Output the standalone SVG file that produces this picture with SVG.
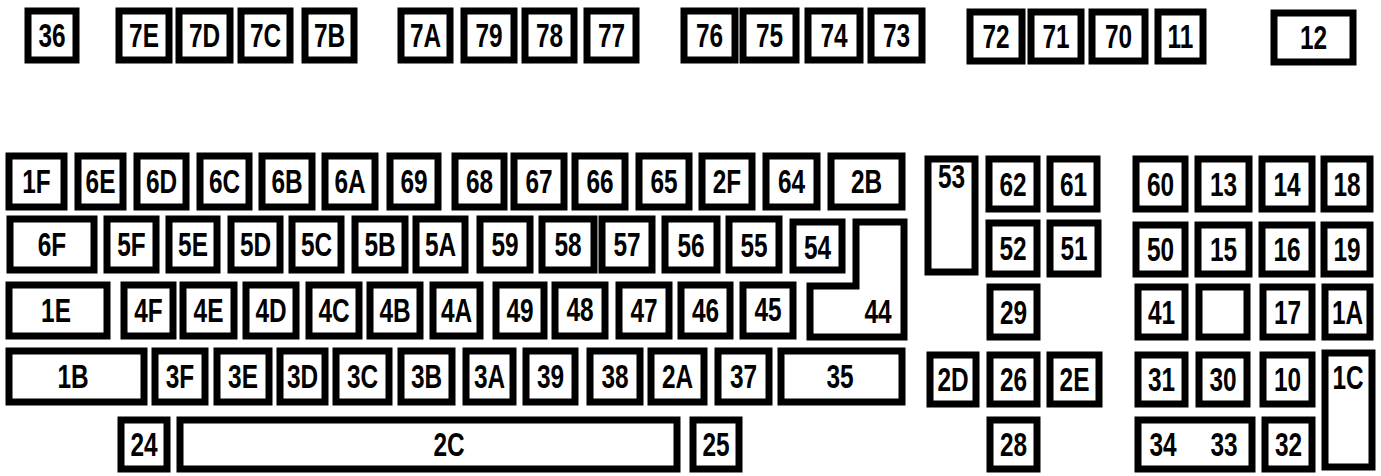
<svg xmlns="http://www.w3.org/2000/svg" width="1381" height="476" viewBox="0 0 1381 476">
<style>
.k rect,.k path{fill:#fff;stroke:#000;stroke-width:7;stroke-linejoin:miter}
.k text{font-family:"Liberation Sans",Arial,sans-serif;font-weight:bold;font-size:33px;text-anchor:middle;fill:#000}
</style>
<rect width="1381" height="476" fill="#fff"/>
<g id="keys" class="k">
<g id="k36"><rect x="28" y="11" width="48" height="49"/><text transform="matrix(.74 0 0 1 52 47)">36</text></g>
<g id="k7E"><rect x="119" y="11" width="50" height="49"/><text transform="matrix(.74 0 0 1 144 47)">7E</text></g>
<g id="k7D"><rect x="179" y="11" width="51" height="49"/><text transform="matrix(.74 0 0 1 204.5 47)">7D</text></g>
<g id="k7C"><rect x="241" y="11" width="49" height="49"/><text transform="matrix(.74 0 0 1 265.5 47)">7C</text></g>
<g id="k7B"><rect x="305" y="11" width="49" height="49"/><text transform="matrix(.74 0 0 1 329.5 47)">7B</text></g>
<g id="k7A"><rect x="401" y="11" width="49" height="49"/><text transform="matrix(.74 0 0 1 425.5 47)">7A</text></g>
<g id="k79"><rect x="464" y="11" width="50" height="49"/><text transform="matrix(.74 0 0 1 489 47)">79</text></g>
<g id="k78"><rect x="525" y="11" width="49" height="49"/><text transform="matrix(.74 0 0 1 549.5 47)">78</text></g>
<g id="k77"><rect x="587" y="11" width="49" height="49"/><text transform="matrix(.74 0 0 1 611.5 47)">77</text></g>
<g id="k76"><rect x="684" y="11" width="51" height="49"/><text transform="matrix(.74 0 0 1 709.5 47)">76</text></g>
<g id="k75"><rect x="743" y="11" width="53" height="49"/><text transform="matrix(.74 0 0 1 769.5 47)">75</text></g>
<g id="k74"><rect x="808" y="11" width="52" height="49"/><text transform="matrix(.74 0 0 1 834 47)">74</text></g>
<g id="k73"><rect x="871" y="11" width="51" height="49"/><text transform="matrix(.74 0 0 1 896.5 47)">73</text></g>
<g id="k72"><rect x="970" y="12" width="52" height="49"/><text transform="matrix(.74 0 0 1 996 48)">72</text></g>
<g id="k71"><rect x="1031" y="12" width="50" height="49"/><text transform="matrix(.74 0 0 1 1056 48)">71</text></g>
<g id="k70"><rect x="1092" y="12" width="53" height="49"/><text transform="matrix(.74 0 0 1 1118.5 48)">70</text></g>
<g id="k11"><rect x="1158" y="12" width="45" height="49"/><text transform="matrix(.74 0 0 1 1180.5 48)">11</text></g>
<g id="k12"><rect x="1274" y="13" width="79" height="49"/><text transform="matrix(.74 0 0 1 1313.5 49)">12</text></g>
<g id="k1F"><rect x="9" y="156" width="55" height="51"/><text transform="matrix(.74 0 0 1 36.5 193)">1F</text></g>
<g id="k6E"><rect x="78" y="156" width="45" height="51"/><text transform="matrix(.74 0 0 1 100.5 193)">6E</text></g>
<g id="k6D"><rect x="137" y="156" width="49" height="51"/><text transform="matrix(.74 0 0 1 161.5 193)">6D</text></g>
<g id="k6C"><rect x="200" y="156" width="49" height="51"/><text transform="matrix(.74 0 0 1 224.5 193)">6C</text></g>
<g id="k6B"><rect x="262" y="156" width="50" height="51"/><text transform="matrix(.74 0 0 1 287 193)">6B</text></g>
<g id="k6A"><rect x="325" y="156" width="50" height="51"/><text transform="matrix(.74 0 0 1 350 193)">6A</text></g>
<g id="k69"><rect x="390" y="156" width="48" height="51"/><text transform="matrix(.74 0 0 1 414 193)">69</text></g>
<g id="k68"><rect x="455" y="156" width="49" height="51"/><text transform="matrix(.74 0 0 1 479.5 193)">68</text></g>
<g id="k67"><rect x="514" y="156" width="50" height="51"/><text transform="matrix(.74 0 0 1 539 193)">67</text></g>
<g id="k66"><rect x="575" y="156" width="50" height="51"/><text transform="matrix(.74 0 0 1 600 193)">66</text></g>
<g id="k65"><rect x="639" y="156" width="50" height="51"/><text transform="matrix(.74 0 0 1 664 193)">65</text></g>
<g id="k2F"><rect x="702" y="156" width="50" height="51"/><text transform="matrix(.74 0 0 1 727 193)">2F</text></g>
<g id="k64"><rect x="766" y="156" width="51" height="51"/><text transform="matrix(.74 0 0 1 791.5 193)">64</text></g>
<g id="k2B"><rect x="831" y="156" width="71" height="51"/><text transform="matrix(.74 0 0 1 866.5 193)">2B</text></g>
<g id="k53"><rect x="928" y="159" width="47" height="113"/><text transform="matrix(.74 0 0 1 951.5 188)">53</text></g>
<g id="k62"><rect x="989" y="159" width="48" height="50"/><text transform="matrix(.74 0 0 1 1013 196)">62</text></g>
<g id="k61"><rect x="1050" y="159" width="47" height="50"/><text transform="matrix(.74 0 0 1 1073.5 196)">61</text></g>
<g id="k60"><rect x="1136" y="159" width="49" height="50"/><text transform="matrix(.74 0 0 1 1160.5 196)">60</text></g>
<g id="k13"><rect x="1198" y="159" width="51" height="50"/><text transform="matrix(.74 0 0 1 1223.5 196)">13</text></g>
<g id="k14"><rect x="1262" y="159" width="50" height="50"/><text transform="matrix(.74 0 0 1 1287 196)">14</text></g>
<g id="k18"><rect x="1324" y="159" width="46" height="50"/><text transform="matrix(.74 0 0 1 1347 196)">18</text></g>
<g id="k6F"><rect x="10" y="219" width="84" height="51"/><text transform="matrix(.74 0 0 1 52 256)">6F</text></g>
<g id="k5F"><rect x="107" y="219" width="49" height="51"/><text transform="matrix(.74 0 0 1 131.5 256)">5F</text></g>
<g id="k5E"><rect x="169" y="219" width="48" height="51"/><text transform="matrix(.74 0 0 1 193 256)">5E</text></g>
<g id="k5D"><rect x="231" y="219" width="49" height="51"/><text transform="matrix(.74 0 0 1 255.5 256)">5D</text></g>
<g id="k5C"><rect x="292" y="219" width="49" height="51"/><text transform="matrix(.74 0 0 1 316.5 256)">5C</text></g>
<g id="k5B"><rect x="355" y="219" width="50" height="51"/><text transform="matrix(.74 0 0 1 380 256)">5B</text></g>
<g id="k5A"><rect x="416" y="219" width="49" height="51"/><text transform="matrix(.74 0 0 1 440.5 256)">5A</text></g>
<g id="k59"><rect x="480" y="219" width="50" height="51"/><text transform="matrix(.74 0 0 1 505 256)">59</text></g>
<g id="k58"><rect x="542" y="219" width="52" height="51"/><text transform="matrix(.74 0 0 1 568 256)">58</text></g>
<g id="k57"><rect x="602" y="219" width="50" height="51"/><text transform="matrix(.74 0 0 1 627 256)">57</text></g>
<g id="k56"><rect x="665" y="219" width="52" height="51"/><text transform="matrix(.74 0 0 1 691 257)">56</text></g>
<g id="k55"><rect x="729" y="219" width="50" height="51"/><text transform="matrix(.74 0 0 1 754 257)">55</text></g>
<g id="k54"><rect x="793" y="222" width="49" height="48"/><text transform="matrix(.74 0 0 1 817.5 259)">54</text></g>
<g id="k44"><path d="M856,222 H904 V337 H810 V286 H856 Z"/><text transform="matrix(.74 0 0 1 878 323)">44</text></g>
<g id="k52"><rect x="989" y="223" width="48" height="51"/><text transform="matrix(.74 0 0 1 1013 260)">52</text></g>
<g id="k51"><rect x="1050" y="223" width="48" height="51"/><text transform="matrix(.74 0 0 1 1074 260)">51</text></g>
<g id="k50"><rect x="1136" y="225" width="49" height="49"/><text transform="matrix(.74 0 0 1 1160.5 261)">50</text></g>
<g id="k15"><rect x="1198" y="225" width="51" height="49"/><text transform="matrix(.74 0 0 1 1223.5 261)">15</text></g>
<g id="k16"><rect x="1262" y="225" width="50" height="49"/><text transform="matrix(.74 0 0 1 1287 261)">16</text></g>
<g id="k19"><rect x="1324" y="225" width="46" height="49"/><text transform="matrix(.74 0 0 1 1347 261)">19</text></g>
<g id="k1E"><rect x="9" y="285" width="98" height="51"/><text transform="matrix(.74 0 0 1 56 322)">1E</text></g>
<g id="k4F"><rect x="124" y="285" width="49" height="51"/><text transform="matrix(.74 0 0 1 148.5 322)">4F</text></g>
<g id="k4E"><rect x="183" y="285" width="51" height="51"/><text transform="matrix(.74 0 0 1 208.5 322)">4E</text></g>
<g id="k4D"><rect x="246" y="285" width="50" height="51"/><text transform="matrix(.74 0 0 1 271 322)">4D</text></g>
<g id="k4C"><rect x="309" y="285" width="50" height="51"/><text transform="matrix(.74 0 0 1 334 322)">4C</text></g>
<g id="k4B"><rect x="370" y="285" width="50" height="51"/><text transform="matrix(.74 0 0 1 395 322)">4B</text></g>
<g id="k4A"><rect x="433" y="285" width="47" height="51"/><text transform="matrix(.74 0 0 1 456.5 322)">4A</text></g>
<g id="k49"><rect x="496" y="285" width="48" height="51"/><text transform="matrix(.74 0 0 1 520 322)">49</text></g>
<g id="k48"><rect x="555" y="285" width="50" height="51"/><text transform="matrix(.74 0 0 1 580 321)">48</text></g>
<g id="k47"><rect x="619" y="285" width="50" height="51"/><text transform="matrix(.74 0 0 1 644 322)">47</text></g>
<g id="k46"><rect x="681" y="285" width="49" height="51"/><text transform="matrix(.74 0 0 1 705.5 322)">46</text></g>
<g id="k45"><rect x="743" y="285" width="50" height="51"/><text transform="matrix(.74 0 0 1 768 321)">45</text></g>
<g id="k29"><rect x="990" y="287" width="47" height="50"/><text transform="matrix(.74 0 0 1 1013.5 324)">29</text></g>
<g id="k41"><rect x="1138" y="287" width="47" height="50"/><text transform="matrix(.74 0 0 1 1161.5 324)">41</text></g>
<g id="kblank"><rect x="1199" y="287" width="48" height="50"/></g>
<g id="k17"><rect x="1263" y="287" width="49" height="50"/><text transform="matrix(.74 0 0 1 1287.5 324)">17</text></g>
<g id="k1A"><rect x="1325" y="287" width="45" height="50"/><text transform="matrix(.74 0 0 1 1347.5 324)">1A</text></g>
<g id="k1B"><rect x="9" y="351" width="135" height="51"/><text transform="matrix(.74 0 0 1 73 388)">1B</text></g>
<g id="k3F"><rect x="155" y="351" width="50" height="51"/><text transform="matrix(.74 0 0 1 180 388)">3F</text></g>
<g id="k3E"><rect x="217" y="351" width="52" height="51"/><text transform="matrix(.74 0 0 1 243 388)">3E</text></g>
<g id="k3D"><rect x="280" y="351" width="45" height="51"/><text transform="matrix(.74 0 0 1 302.5 388)">3D</text></g>
<g id="k3C"><rect x="336" y="351" width="53" height="51"/><text transform="matrix(.74 0 0 1 362.5 388)">3C</text></g>
<g id="k3B"><rect x="401" y="351" width="51" height="51"/><text transform="matrix(.74 0 0 1 426.5 388)">3B</text></g>
<g id="k3A"><rect x="466" y="351" width="47" height="51"/><text transform="matrix(.74 0 0 1 489.5 388)">3A</text></g>
<g id="k39"><rect x="526" y="351" width="49" height="51"/><text transform="matrix(.74 0 0 1 550.5 388)">39</text></g>
<g id="k38"><rect x="590" y="351" width="50" height="51"/><text transform="matrix(.74 0 0 1 615 388)">38</text></g>
<g id="k2A"><rect x="651" y="351" width="53" height="51"/><text transform="matrix(.74 0 0 1 677.5 388)">2A</text></g>
<g id="k37"><rect x="718" y="351" width="51" height="51"/><text transform="matrix(.74 0 0 1 743.5 388)">37</text></g>
<g id="k35"><rect x="781" y="351" width="121" height="51"/><text transform="matrix(.74 0 0 1 840 388)">35</text></g>
<g id="k2D"><rect x="930" y="355" width="46" height="49"/><text transform="matrix(.74 0 0 1 953 391)">2D</text></g>
<g id="k26"><rect x="990" y="355" width="47" height="49"/><text transform="matrix(.74 0 0 1 1013.5 391)">26</text></g>
<g id="k2E"><rect x="1050" y="355" width="49" height="49"/><text transform="matrix(.74 0 0 1 1074.5 391)">2E</text></g>
<g id="k31"><rect x="1138" y="355" width="47" height="49"/><text transform="matrix(.74 0 0 1 1161.5 391)">31</text></g>
<g id="k30"><rect x="1199" y="355" width="48" height="49"/><text transform="matrix(.74 0 0 1 1223 391)">30</text></g>
<g id="k10"><rect x="1263" y="355" width="49" height="49"/><text transform="matrix(.74 0 0 1 1287.5 391)">10</text></g>
<g id="k1C"><rect x="1325" y="353" width="47" height="114"/><text transform="matrix(.74 0 0 1 1348 389)">1C</text></g>
<g id="k24"><rect x="121" y="420" width="46" height="49"/><text transform="matrix(.74 0 0 1 144 456)">24</text></g>
<g id="k2C"><rect x="180" y="420" width="497" height="49"/><text transform="matrix(.74 0 0 1 449 456)">2C</text></g>
<g id="k25"><rect x="693" y="420" width="46" height="49"/><text transform="matrix(.74 0 0 1 716 456)">25</text></g>
<g id="k28"><rect x="990" y="420" width="47" height="49"/><text transform="matrix(.74 0 0 1 1013.5 456)">28</text></g>
<g id="k3433"><rect x="1138" y="420" width="114" height="49"/><text transform="matrix(.74 0 0 1 1163 456)">34</text><text transform="matrix(.74 0 0 1 1224 456)">33</text></g>
<g id="k32"><rect x="1265" y="420" width="47" height="49"/><text transform="matrix(.74 0 0 1 1288.5 456)">32</text></g>
</g>
</svg>
